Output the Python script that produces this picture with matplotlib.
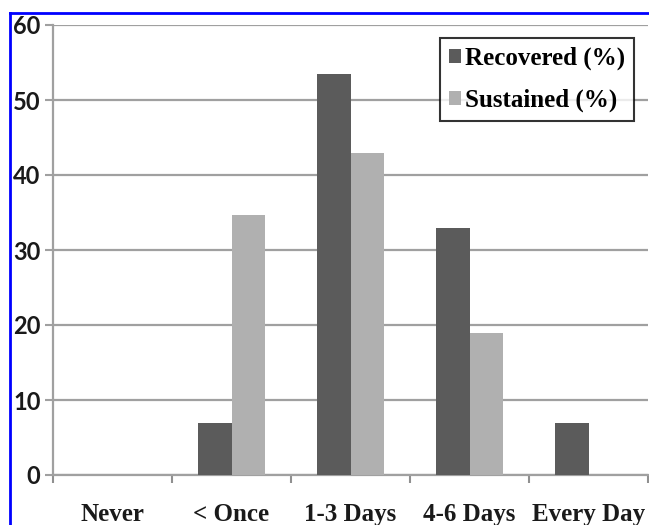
import matplotlib
matplotlib.use("Agg")
import matplotlib.pyplot as plt
import numpy as np
from matplotlib.lines import Line2D

categories = ["Never", "< Once", "1-3 Days", "4-6 Days", "Every Day"]
recovered = [0, 7, 53.5, 33, 7]
sustained = [0, 34.7, 43, 19, 0]
yticks = [0, 10, 20, 30, 40, 50, 60]

fig = plt.figure(figsize=(6.49, 5.25), dpi=100)
ax = fig.add_axes([53/649, 1-475/525, (648-53)/649, 450/525])

x = np.arange(len(categories))
w = 0.285
ax.bar(x - w/2, recovered, w, color="#5b5b5b", label="Recovered (%)", zorder=3)
ax.bar(x + w/2, sustained, w, color="#b0b0b0", label="Sustained (%)", zorder=3)

ax.set_xlim(-0.5, len(categories) - 0.5)
ax.set_ylim(0, 60)
ax.set_yticks(yticks)
ax.set_yticklabels([str(v) for v in yticks], fontfamily="Lato", fontweight="bold",
                   fontsize=17, color="#1a1a1a")
ax.yaxis.grid(True, color="#a0a0a0", linewidth=1.6, zorder=0)
ax.set_axisbelow(True)

ax.set_xticks(np.arange(len(categories) + 1) - 0.5)
ax.set_xticklabels([])
ax.set_xticks(x, minor=True)
ax.set_xticklabels(categories, minor=True, fontfamily="Liberation Serif",
                   fontweight="bold", fontsize=18, color="#1a1a1a")
ax.tick_params(axis="x", which="major", length=6, width=1.5, color="#909090", direction="out")
ax.tick_params(axis="x", which="minor", length=0, pad=20)
ax.tick_params(axis="y", length=6, width=1.5, color="#a0a0a0", pad=3)

for s in ["top", "right"]:
    ax.spines[s].set_visible(False)
for s in ["left", "bottom"]:
    ax.spines[s].set_color("#a0a0a0")
    ax.spines[s].set_linewidth(1.6)

leg = ax.legend(loc="upper right", bbox_to_anchor=(634/649, 1-38/525),
                bbox_transform=fig.transFigure, frameon=True, fancybox=False,
                prop={"family": "Liberation Serif", "weight": "bold", "size": 18},
                handlelength=0.5, handleheight=0.5, handletextpad=0.15,
                borderpad=0.35, labelspacing=0.75, borderaxespad=0)
leg.get_frame().set_edgecolor("black")
leg.get_frame().set_linewidth(1.5)

# blue frame (left and top)
fig.add_artist(Line2D([10/649, 10/649], [0, 1-13/525], color="#0000ff", linewidth=2,
                      transform=fig.transFigure))
fig.add_artist(Line2D([10/649, 1], [1-13/525, 1-13/525], color="#0000ff", linewidth=2,
                      transform=fig.transFigure))

fig.savefig("out.png", dpi=100)
